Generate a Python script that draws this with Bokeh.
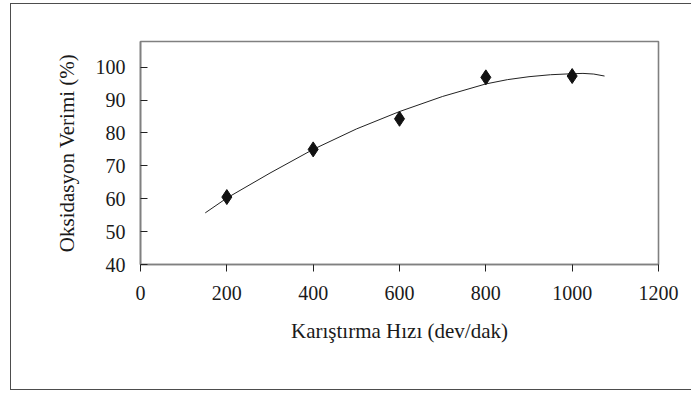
from bokeh.plotting import figure
from bokeh.models import Range1d, FixedTicker, ColumnDataSource
from bokeh.embed import file_html
from bokeh.resources import INLINE

# Measured data (stirring speed vs. oxidation yield)
speed = [200, 400, 600, 800, 1000]
yield_pct = [60.5, 75.0, 84.3, 96.9, 97.3]

# Trend curve
trend_x = [150, 200, 300, 400, 500, 600, 700, 800, 850, 900, 950, 1000, 1025, 1050, 1075]
trend_y = [55.7, 60.2, 67.8, 75.0, 81.2, 86.5, 91.1, 94.9, 96.2, 97.1, 97.7, 98.0, 98.1, 97.9, 97.3]

x_ticks = [0, 200, 400, 600, 800, 1000, 1200]
y_ticks = [40, 50, 60, 70, 80, 90, 100]

x_title = "Karıştırma Hızı (dev/dak)"
y_title = "Oksidasyon Verimi (%)"

FONT = "'Liberation Serif', 'Times New Roman', 'DejaVu Serif', serif"

p = figure(width=681, height=387,
           x_range=Range1d(0, 1200), y_range=Range1d(40, 107.8),
           output_backend="svg", toolbar_location=None,
           min_border_left=129, min_border_right=34,
           min_border_top=37, min_border_bottom=127)

p.margin = (3, 0, 0, 10)
p.styles = {"border": "1.5px solid #4d4d4d", "border-right": "none"}

p.background_fill_color = "white"
p.border_fill_color = "white"
p.outline_line_color = "#808080"
p.outline_line_width = 1.6

p.xgrid.visible = False
p.ygrid.visible = False

trend_src = ColumnDataSource(dict(x=trend_x, y=trend_y))
p.line("x", "y", source=trend_src, line_color="#222222", line_width=1.0)

pts = ColumnDataSource(dict(x=speed, y=yield_pct))
p.scatter("x", "y", source=pts, marker="diamond", size=15,
          fill_color="#111111", line_color="#111111")

xa = p.xaxis[0]
xa.ticker = FixedTicker(ticks=x_ticks)
xa.minor_tick_line_color = None
xa.major_tick_in = 0
xa.major_tick_out = 7
xa.major_tick_line_color = "#222222"
xa.axis_line_color = "#808080"
xa.axis_line_width = 1.6
xa.major_label_text_font = FONT
xa.major_label_text_font_size = "20px"
xa.major_label_text_color = "#1a1a1a"
xa.major_label_standoff = 14
xa.axis_label = x_title
xa.axis_label_text_font = FONT
xa.axis_label_text_font_size = "21px"
xa.axis_label_text_font_style = "normal"
xa.axis_label_text_color = "#1a1a1a"
xa.axis_label_standoff = 16

ya = p.yaxis[0]
ya.ticker = FixedTicker(ticks=y_ticks)
ya.minor_tick_line_color = None
ya.major_tick_in = 7
ya.major_tick_out = 0
ya.major_tick_line_color = "#222222"
ya.axis_line_color = "#808080"
ya.axis_line_width = 1.6
ya.major_label_text_font = FONT
ya.major_label_text_font_size = "20px"
ya.major_label_text_color = "#1a1a1a"
ya.major_label_standoff = 15
ya.axis_label = y_title
ya.axis_label_text_font = FONT
ya.axis_label_text_font_size = "21px"
ya.axis_label_text_font_style = "normal"
ya.axis_label_text_color = "#1a1a1a"
ya.axis_label_standoff = 14

open("out.html", "w").write(file_html(p, INLINE))
